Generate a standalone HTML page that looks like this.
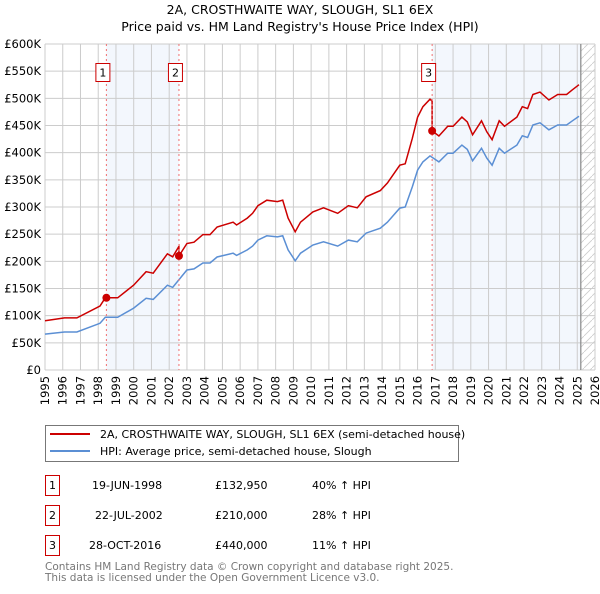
<!DOCTYPE html>
<html><head><meta charset="utf-8">
<style>
body{margin:0;background:#fff;font-family:"DejaVu Sans","Liberation Sans",sans-serif;}
svg text{font-family:"DejaVu Sans","Liberation Sans",sans-serif;}
</style></head>
<body>
<svg id="chart" width="600" height="590" viewBox="0 0 600 590" xmlns="http://www.w3.org/2000/svg">
<defs>
<pattern id="hatch" patternUnits="userSpaceOnUse" width="8" height="8">
<path d="M-1,9 L9,-1" stroke="#ccc" stroke-width="0.8"/>
</pattern>
</defs>
<text x="300" y="14" text-anchor="middle" font-size="12.5">2A, CROSTHWAITE WAY, SLOUGH, SL1 6EX</text>
<text x="300" y="31" text-anchor="middle" font-size="12.5">Price paid vs. HM Land Registry's House Price Index (HPI)</text>
<g id="bg"></g>
<g id="grid"></g>
<g id="lines"></g>
<g id="marks"></g>
<g id="axes"></g>

<g>
<rect x="45.5" y="425.5" width="413" height="36" fill="#fff" stroke="#777"/>
<line x1="50" y1="434" x2="90" y2="434" stroke="#cc0000" stroke-width="2"/>
<text x="100" y="438" font-size="11">2A, CROSTHWAITE WAY, SLOUGH, SL1 6EX (semi-detached house)</text>
<line x1="50" y1="451" x2="90" y2="451" stroke="#5b8fd4" stroke-width="2"/>
<text x="100" y="455" font-size="11">HPI: Average price, semi-detached house, Slough</text>
</g>

<g font-size="11">
<g>
<rect x="45.5" y="475.5" width="14" height="20" fill="#fff" stroke="#cc0000"/>
<text x="52.5" y="489" text-anchor="middle">1</text>
<text x="92" y="489">19-JUN-1998</text><text x="215" y="489">£132,950</text><text x="312" y="489">40% ↑ HPI</text>
</g>
<g>
<rect x="45.5" y="505.5" width="14" height="20" fill="#fff" stroke="#cc0000"/>
<text x="52.5" y="519" text-anchor="middle">2</text>
<text x="95" y="519">22-JUL-2002</text><text x="215" y="519">£210,000</text><text x="312" y="519">28% ↑ HPI</text>
</g>
<g>
<rect x="45.5" y="535.5" width="14" height="20" fill="#fff" stroke="#cc0000"/>
<text x="52.5" y="549" text-anchor="middle">3</text>
<text x="89" y="549">28-OCT-2016</text><text x="215" y="549">£440,000</text><text x="312" y="549">11% ↑ HPI</text>
</g>
</g>
<text x="45" y="570" font-size="10.5" fill="#777">Contains HM Land Registry data © Crown copyright and database right 2025.</text>
<text x="45" y="581" font-size="10.5" fill="#777">This data is licensed under the Open Government Licence v3.0.</text>
</svg>
<script>
const hpiYears=[1995,1996.1,1996.8,1998.1,1998.4,1999.1,2000,2000.7,2001.1,2001.9,2002.2,2003,2003.4,2003.9,2004.3,2004.7,2005.6,2005.8,2006.4,2006.7,2007,2007.5,2008.1,2008.4,2008.7,2009.1,2009.4,2010.1,2010.7,2011.5,2012.1,2012.6,2013.1,2013.9,2014.3,2015,2015.3,2015.7,2016,2016.3,2016.7,2017.2,2017.7,2018,2018.5,2018.8,2019.1,2019.6,2019.9,2020.2,2020.6,2020.9,2021.6,2021.9,2022.2,2022.5,2022.9,2023.4,2023.9,2024.4,2024.7,2025.1];
const hpiValues=[66,70,70,86,97,97,114,132,130,156,152,184,186,197,197,208,215,211,221,228,239,247,245,247,221,201,215,230,236,228,239,236,252,261,272,298,300,337,368,383,394,383,399,399,414,406,385,408,390,377,408,399,414,431,428,451,455,442,451,451,458,467];
const saleYears=[1998.46,2002.55,2016.82];
const salePrices=[132950,210000,440000];
const saleLabels=["1","2","3"];
const yTicks=[0,50,100,150,200,250,300,350,400,450,500,550,600];
const xTickYears=[1995,1996,1997,1998,1999,2000,2001,2002,2003,2004,2005,2006,2007,2008,2009,2010,2011,2012,2013,2014,2015,2016,2017,2018,2019,2020,2021,2022,2023,2024,2025,2026];
const dataEndYear=2025.2;

const X0=45,X1=595,Y0=370,Y1=44;
const x=y=>X0+(y-1995)*(X1-X0)/31;
const yv=v=>Y0-v*(Y0-Y1)/600;
const NS="http://www.w3.org/2000/svg";
function mk(tag,attrs,parent){const e=document.createElementNS(NS,tag);for(const k in attrs)e.setAttribute(k,attrs[k]);parent.appendChild(e);return e;}
const bg=document.getElementById('bg'),grid=document.getElementById('grid'),lines=document.getElementById('lines'),marks=document.getElementById('marks'),axes=document.getElementById('axes');

function hpiAt(t){for(let i=1;i<hpiYears.length;i++){if(t<=hpiYears[i]){const f=(t-hpiYears[i-1])/(hpiYears[i]-hpiYears[i-1]);return hpiValues[i-1]+f*(hpiValues[i]-hpiValues[i-1]);}}return hpiValues[hpiValues.length-1];}

let r=mk('rect',{x:x(saleYears[0]),y:Y1,width:x(saleYears[1])-x(saleYears[0]),height:Y0-Y1,fill:'#eef3fc',opacity:0.7},bg);

r=mk('rect',{x:x(saleYears[2]),y:Y1,width:x(dataEndYear)-x(saleYears[2]),height:Y0-Y1,fill:'#eef3fc',opacity:0.7},bg);

r=mk('rect',{x:x(dataEndYear),y:Y1,width:X1-x(dataEndYear),height:Y0-Y1,fill:'url(#hatch)'},bg);


yTicks.forEach(v=>{const l=mk('line',{x1:X0,x2:X1,y1:yv(v),y2:yv(v),stroke:'#ccc','stroke-width':1},grid);

const t=mk('text',{x:X0-4,y:yv(v)+4,'text-anchor':'end','font-size':11.5},axes);t.textContent=v===0?'£0':'£'+v+'K';
});
xTickYears.forEach(yr=>{const l=mk('line',{x1:x(yr),x2:x(yr),y1:Y1,y2:Y0,stroke:'#ccc','stroke-width':1},grid);

const s=String(yr);const bx=(x(yr)+4).toFixed(1);
const xs=[],ys=[],rs=[];
for(let i=0;i<s.length;i++){xs.push(bx);ys.push((Y0+6+s.length*7.3-i*7.3).toFixed(1));rs.push(-90);}
const t=mk('text',{x:xs.join(' '),y:ys.join(' '),rotate:rs.join(' '),'font-size':11.5},axes);t.textContent=s;
});
let el=mk('line',{x1:x(dataEndYear),x2:x(dataEndYear),y1:Y1,y2:Y0,stroke:'#888','stroke-width':1.2},grid);


let d=hpiYears.map((t,i)=>(i?'L':'M')+x(t).toFixed(1)+','+yv(hpiValues[i]).toFixed(1)).join('');
el=mk('path',{d,fill:'none',stroke:'#5b8fd4','stroke-width':1.5},lines);


const factors=saleYears.map((t,i)=>salePrices[i]/1000/hpiAt(t));
let pts=[];
hpiYears.forEach((t,i)=>{let k=0;for(let j=0;j<saleYears.length;j++)if(t>=saleYears[j])k=j;pts.push([t,hpiValues[i]*factors[k]]);});
saleYears.forEach((t,j)=>{if(j>0)pts.push([t-0.001,hpiAt(t)*factors[j-1]]);pts.push([t,salePrices[j]/1000]);});
pts.sort((a,b)=>a[0]-b[0]);
d=pts.map((p,i)=>(i?'L':'M')+x(p[0]).toFixed(1)+','+yv(p[1]).toFixed(1)).join('');
el=mk('path',{d,fill:'none',stroke:'#cc0000','stroke-width':1.5},lines);


saleYears.forEach((t,i)=>{
const l=mk('line',{x1:x(t),x2:x(t),y1:Y1,y2:Y0,stroke:'#f07070','stroke-width':1,'stroke-dasharray':'2,3'},marks);

const c=mk('circle',{cx:x(t),cy:yv(salePrices[i]/1000),r:4,fill:'#cc0000'},marks);

const b=mk('rect',{x:x(t)-10.5,y:63.5,width:14,height:18,fill:'#fff',stroke:'#cc0000'},marks);

const tx=mk('text',{x:x(t)-3.5,y:76.5,'text-anchor':'middle','font-size':11},marks);tx.textContent=saleLabels[i];

});
</script>
</body></html>
